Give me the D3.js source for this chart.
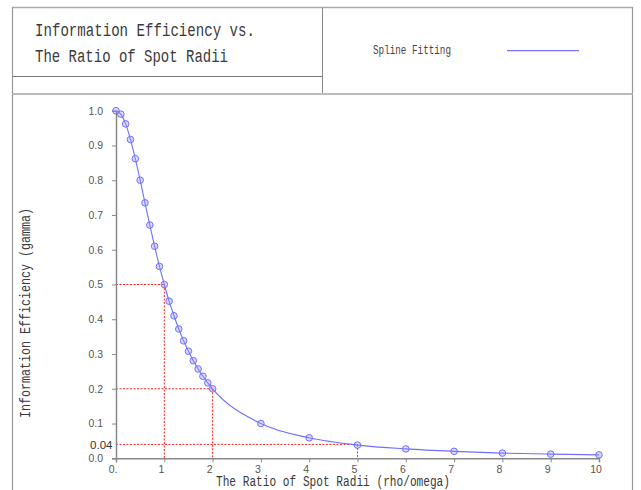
<!DOCTYPE html>
<html><head><meta charset="utf-8">
<script src="https://cdn.jsdelivr.net/npm/d3@7"></script>
<style>html,body{margin:0;padding:0;background:#fff;}</style>
</head><body>
<svg id="chart" width="641" height="490"></svg>
<script>
const ratioX = [0,0.1,0.2,0.3,0.4,0.5,0.6,0.7,0.8,0.9,1.0,1.1,1.2,1.3,1.4,1.5,1.6,1.7,1.8,1.9,2.0,3,4,5,6,7,8,9,10];
const gammaY = [1.0,0.990,0.962,0.917,0.862,0.800,0.735,0.671,0.610,0.552,0.500,0.452,0.410,0.372,0.338,0.308,0.281,0.257,0.236,0.217,0.200,0.100,0.059,0.038,0.027,0.020,0.015,0.012,0.0099];
const xTicks = [0,1,2,3,4,5,6,7,8,9,10];
const xTickLabels = ["0.","1","2","3","4","5","6","7","8","9","10"];
const yTicks = [0,0.1,0.2,0.3,0.4,0.5,0.6,0.7,0.8,0.9,1.0];
const yTickLabels = ["0.0","0.1","0.2","0.3","0.4","0.5","0.6","0.7","0.8","0.9","1.0"];
const refX = [1,2,5];
const refY = [0.5,0.2,0.04];
const titleLines = ["Information Efficiency vs.","The Ratio of Spot Radii"];
const legendLabel = "Spline Fitting";
const xLabel = "The Ratio of Spot Radii (rho/omega)";
const yLabel = "Information Efficiency (gamma)";

const svg = d3.select("#chart");
const mono = "'Liberation Mono', 'DejaVu Sans Mono', monospace";
const sans = "'Liberation Sans', Arial, sans-serif";

// frame
const frame = svg.append("g").attr("fill","none");
frame.append("line").attr("x1",12.5).attr("x2",632.5).attr("y1",7.5).attr("y2",7.5).attr("stroke","#aaa").attr("stroke-width",1.5);
frame.append("line").attr("x1",12.5).attr("x2",12.5).attr("y1",7).attr("y2",490).attr("stroke","#999").attr("stroke-width",1.2);
frame.append("line").attr("x1",632.5).attr("x2",632.5).attr("y1",7).attr("y2",490).attr("stroke","#999").attr("stroke-width",1.2);
frame.append("line").attr("x1",322.5).attr("x2",322.5).attr("y1",7.5).attr("y2",94).attr("stroke","#888").attr("stroke-width",1);
frame.append("line").attr("x1",12.5).attr("x2",322.5).attr("y1",76.5).attr("y2",76.5).attr("stroke","#777").attr("stroke-width",1);
frame.append("line").attr("x1",12.5).attr("x2",632.5).attr("y1",94).attr("y2",94).attr("stroke","#bbb").attr("stroke-width",2);

// title
svg.append("text").attr("x",35).attr("y",36).attr("font-family",mono).attr("font-size",18).attr("fill","#3a3a3a")
  .attr("textLength",220).attr("lengthAdjust","spacingAndGlyphs").text(titleLines[0]);
svg.append("text").attr("x",35).attr("y",62).attr("font-family",mono).attr("font-size",18).attr("fill","#3a3a3a")
  .attr("textLength",193).attr("lengthAdjust","spacingAndGlyphs").text(titleLines[1]);

// legend
svg.append("text").attr("x",373).attr("y",54).attr("font-family",mono).attr("font-size",12).attr("fill","#444")
  .attr("textLength",78).attr("lengthAdjust","spacingAndGlyphs").text(legendLabel);
svg.append("line").attr("x1",507).attr("x2",579).attr("y1",50.7).attr("y2",50.7).attr("stroke","#7777ff").attr("stroke-width",1.3);

// scales
const x = d3.scaleLinear().domain([0,10]).range([116,599]);
const y = d3.scaleLinear().domain([0,1]).range([458.3,110.7]);

// reference dashed lines
const data = ratioX.map((v,i)=>({x:v,y:gammaY[i]}));
const refG = svg.append("g").attr("stroke","#ff2020").attr("stroke-width",1).attr("stroke-dasharray","2,1.5").attr("fill","none");
refX.forEach((rx,i)=>{
  const ry = refY[i];
  refG.append("line").attr("x1",x(0)).attr("x2",x(rx)).attr("y1",y(ry)).attr("y2",y(ry));
  refG.append("line").attr("x1",x(rx)).attr("x2",x(rx)).attr("y1",y(ry)).attr("y2",y(0));
});

// axes
const yAxis = d3.axisLeft(y).tickValues(yTicks).tickFormat((d,i)=>yTickLabels[i]).tickSize(4).tickPadding(9);
const gy = svg.append("g").attr("transform",`translate(${x(0)},0)`).call(yAxis);
gy.select(".domain").attr("stroke","#888").attr("stroke-width",1.5);
gy.selectAll(".tick line").attr("stroke","#888");
gy.selectAll(".tick text").attr("font-family",sans).attr("font-size",10.5).attr("fill","#555");

const xAxis = d3.axisBottom(x).tickValues(xTicks).tickFormat((d,i)=>xTickLabels[i]).tickSize(4).tickPadding(3);
const gx = svg.append("g").attr("transform",`translate(0,${y(0)})`).call(xAxis);
gx.select(".domain").attr("stroke","#888").attr("stroke-width",1.5);
gx.selectAll(".tick line").attr("stroke","#888");
gx.selectAll(".tick text").attr("font-family",sans).attr("font-size",10.5).attr("fill","#555").attr("dx",-3.5);

// special 0.04 label
svg.append("text").attr("x",112.5).attr("y",y(refY[2])).attr("dy","0.4em").attr("text-anchor","end")
  .attr("font-family",sans).attr("font-size",11.5).attr("fill","#333").text("0.04");

// curve
const line = d3.line().x(d=>x(d.x)).y(d=>y(d.y)).curve(d3.curveMonotoneX);
svg.append("path").datum(data).attr("d",line).attr("fill","none").attr("stroke","#6f6fff").attr("stroke-width",1.1);

svg.append("g").selectAll("circle").data(data).join("circle")
  .attr("cx",d=>x(d.x)).attr("cy",d=>y(d.y)).attr("r",3.3)
  .attr("fill","rgba(150,150,255,0.35)").attr("stroke","#7070ff").attr("stroke-width",1);

// axis labels
svg.append("text").attr("x",216).attr("y",486).attr("font-family",mono).attr("font-size",14).attr("fill","#3a3a3a")
  .attr("textLength",234).attr("lengthAdjust","spacingAndGlyphs").text(xLabel);
svg.append("text").attr("transform","translate(30,418) rotate(-90)").attr("font-family",mono).attr("font-size",14).attr("fill","#3a3a3a")
  .attr("textLength",210).attr("lengthAdjust","spacingAndGlyphs").text(yLabel);
</script>
</body></html>
